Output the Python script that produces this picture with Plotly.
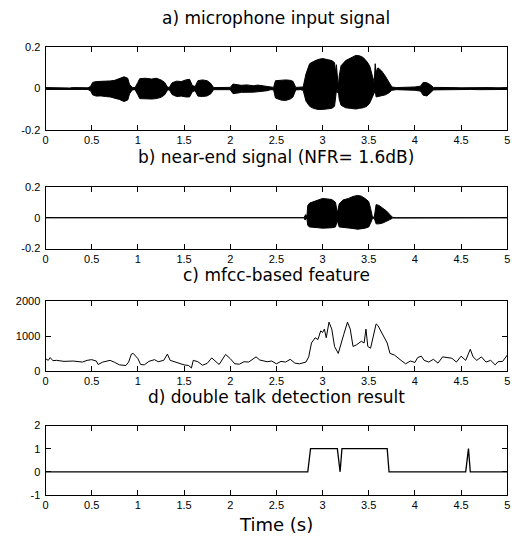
import plotly.graph_objects as go

# ---------- data ----------
# a) microphone input signal: envelope (time, upper, lower)
mic_t = [0.00, 0.06, 0.10, 0.16, 0.20, 0.26, 0.30, 0.36, 0.40, 0.46, 0.49, 0.51, 0.55, 0.60, 0.65, 0.70, 0.75,
         0.80, 0.85, 0.89, 0.91, 0.94, 0.97, 1.00, 1.02, 1.08, 1.15, 1.20, 1.25, 1.29, 1.32, 1.34, 1.37,
         1.42, 1.47, 1.52, 1.56, 1.59, 1.62, 1.65, 1.70, 1.75, 1.79, 1.82, 1.88, 1.94, 2.00, 2.03, 2.07,
         2.12, 2.18, 2.25, 2.30, 2.36, 2.40, 2.44, 2.47, 2.49, 2.55, 2.60, 2.65, 2.68, 2.71, 2.76, 2.79,
         2.82, 2.86, 2.90, 2.95, 3.00, 3.05, 3.10, 3.13, 3.14, 3.15, 3.16, 3.17, 3.18, 3.20, 3.25, 3.30,
         3.36, 3.40, 3.44, 3.48, 3.51, 3.54, 3.56, 3.57, 3.58, 3.60, 3.64, 3.68, 3.72, 3.75, 3.80, 3.90,
         4.00, 4.06, 4.09, 4.13, 4.17, 4.20, 4.30, 4.40, 4.50, 4.60, 4.70, 4.80, 4.90, 5.00]
mic_up = [0.005, 0.004, 0.006, 0.004, 0.005, 0.003, 0.005, 0.004, 0.005, 0.004, 0.012, 0.030, 0.034, 0.035, 0.033, 0.037, 0.040,
          0.050, 0.057, 0.050, 0.020, 0.006, 0.005, 0.030, 0.048, 0.050, 0.046, 0.050, 0.042, 0.030, 0.008, 0.005, 0.028,
          0.036, 0.034, 0.042, 0.045, 0.015, 0.010, 0.038, 0.042, 0.038, 0.025, 0.005, 0.006, 0.005, 0.006, 0.022, 0.020,
          0.016, 0.018, 0.014, 0.017, 0.012, 0.010, 0.005, 0.006, 0.038, 0.040, 0.042, 0.040, 0.035, 0.006, 0.005, 0.008,
          0.070, 0.120, 0.130, 0.140, 0.145, 0.140, 0.135, 0.125, 0.080, 0.115, 0.040, 0.008, 0.060, 0.110, 0.135, 0.145,
          0.160, 0.158, 0.150, 0.130, 0.110, 0.060, 0.030, 0.120, 0.080, 0.100, 0.085, 0.060, 0.030, 0.008, 0.005, 0.006,
          0.008, 0.012, 0.030, 0.028, 0.018, 0.006, 0.004, 0.005, 0.004, 0.005, 0.004, 0.005, 0.004, 0.005]
mic_low = [-0.004, -0.005, -0.004, -0.005, -0.004, -0.004, -0.005, -0.004, -0.004, -0.004, -0.012, -0.030, -0.036, -0.035, -0.038, -0.040, -0.045,
           -0.052, -0.062, -0.055, -0.025, -0.006, -0.005, -0.030, -0.048, -0.050, -0.050, -0.048, -0.042, -0.030, -0.008, -0.005, -0.028,
           -0.038, -0.036, -0.040, -0.040, -0.015, -0.010, -0.036, -0.038, -0.035, -0.025, -0.005, -0.005, -0.006, -0.005, -0.024, -0.022,
           -0.018, -0.016, -0.017, -0.015, -0.013, -0.010, -0.005, -0.006, -0.045, -0.055, -0.057, -0.050, -0.040, -0.006, -0.005, -0.008,
           -0.060, -0.085, -0.095, -0.100, -0.100, -0.098, -0.095, -0.085, -0.040, -0.010, -0.020, -0.008, -0.050, -0.080, -0.092, -0.095,
           -0.098, -0.095, -0.092, -0.085, -0.070, -0.040, -0.020, -0.010, -0.040, -0.040, -0.035, -0.030, -0.020, -0.008, -0.005, -0.005,
           -0.008, -0.012, -0.032, -0.035, -0.020, -0.006, -0.005, -0.004, -0.005, -0.004, -0.005, -0.004, -0.005, -0.004]

# b) near-end signal: envelope (time, upper, lower)
near_t = [0.00, 2.80, 2.81, 2.82, 2.83, 2.84, 2.86, 2.90, 2.95, 3.00, 3.05, 3.10, 3.14, 3.16, 3.18, 3.22, 3.28,
          3.33, 3.38, 3.42, 3.46, 3.50, 3.52, 3.54, 3.56, 3.58, 3.61, 3.65, 3.69, 3.73, 3.76, 3.80, 5.00]
near_up = [0.0, 0.0, 0.015, 0.020, 0.003, 0.080, 0.095, 0.105, 0.115, 0.125, 0.122, 0.118, 0.100, 0.030, 0.090, 0.115, 0.125,
           0.138, 0.145, 0.140, 0.125, 0.105, 0.060, 0.005, 0.003, 0.085, 0.080, 0.065, 0.045, 0.020, 0.002, 0.0, 0.0]
near_low = [0.0, 0.0, -0.015, -0.010, -0.003, -0.050, -0.060, -0.062, -0.065, -0.068, -0.068, -0.065, -0.060, -0.020, -0.060, -0.065, -0.068,
            -0.070, -0.075, -0.072, -0.068, -0.060, -0.035, -0.005, -0.003, -0.040, -0.040, -0.035, -0.025, -0.012, -0.002, 0.0, 0.0]

# c) mfcc-based feature
mfcc_t = [0.00, 0.03, 0.05, 0.08, 0.12, 0.20, 0.30, 0.40, 0.45, 0.50, 0.55, 0.57, 0.62, 0.70, 0.75, 0.80, 0.87,
          0.90, 0.93, 0.95, 1.00, 1.03, 1.07, 1.12, 1.18, 1.22, 1.28, 1.32, 1.35, 1.40, 1.45, 1.50, 1.55, 1.58,
          1.60, 1.65, 1.70, 1.75, 1.80, 1.85, 1.88, 1.95, 2.00, 2.05, 2.10, 2.15, 2.20, 2.28, 2.32, 2.40, 2.45,
          2.50, 2.55, 2.60, 2.65, 2.70, 2.75, 2.82, 2.85, 2.88, 2.92, 2.95, 2.98, 3.00, 3.02, 3.04, 3.07, 3.10,
          3.13, 3.17, 3.20, 3.23, 3.27, 3.30, 3.33, 3.37, 3.42, 3.45, 3.47, 3.49, 3.52, 3.55, 3.58, 3.60, 3.65,
          3.70, 3.73, 3.78, 3.85, 3.90, 3.95, 4.00, 4.03, 4.07, 4.10, 4.15, 4.20, 4.25, 4.30, 4.35, 4.40, 4.45,
          4.50, 4.55, 4.60, 4.63, 4.67, 4.72, 4.77, 4.82, 4.87, 4.90, 4.95, 5.00]
mfcc_v = [350, 300, 380, 290, 300, 270, 280, 250, 300, 320, 280, 180, 250, 300, 240, 170, 150,
          250, 480, 500, 350, 180, 170, 270, 320, 260, 300, 480, 300, 260, 200, 170, 150, 80,
          300, 260, 160, 210, 370, 250, 180, 470, 350, 200, 190, 260, 250, 400, 310, 260, 280,
          200, 270, 250, 330, 220, 200, 250, 400, 800, 950, 900, 1150, 1100, 1200, 950, 1400, 1200,
          700, 500, 800, 1050, 1400, 1200, 700, 750, 850, 800, 1200, 700, 650, 1000, 1350, 1300, 1050,
          800, 500, 450, 300, 200, 280, 240, 380, 420, 300, 250, 330, 220, 400, 380, 360, 250,
          420, 300, 620, 400, 300, 400, 250, 300, 170, 260, 270, 450]

# d) double talk detection result
dt_t = [0.00, 2.84, 2.87, 3.16, 3.19, 3.21, 3.70, 3.72, 4.55, 4.58, 4.60, 5.00]
dt_v = [0, 0, 1, 1, 0, 1, 1, 0, 0, 1, 0, 0]

titles = ["a) microphone input signal", "b) near-end signal (NFR= 1.6dB)",
          "c) mfcc-based feature", "d) double talk detection result"]
x_label = "Time (s)"
y_ticks = [[-0.2, 0, 0.2], [-0.2, 0, 0.2], [0, 1000, 2000], [-1, 0, 1, 2]]
y_ticktext = [["-0.2", "0", "0.2"], ["-0.2", "0", "0.2"], ["0", "1000", "2000"], ["-1", "0", "1", "2"]]
y_ranges = [[-0.2, 0.2], [-0.2, 0.2], [0, 2000], [-1, 2]]
x_ticks = [0, 0.5, 1, 1.5, 2, 2.5, 3, 3.5, 4, 4.5, 5]
x_ticktext = ["0", "0.5", "1", "1.5", "2", "2.5", "3", "3.5", "4", "4.5", "5"]

# ---------- layout geometry (pixels) ----------
W, H = 532, 543
x_left, x_right = 43, 510
boxes = [(42, 127), (185, 248), (302, 373), (429, 500)]
title_y = [12, 154, 275, 400]
xlabel_y = 530

TICK_FONT = "Liberation Sans, Arial, sans-serif"
TITLE_FONT = "DejaVu Sans, Verdana, sans-serif"

fig = go.Figure()

def env_trace(t, up, low, ax):
    xs = list(t) + list(reversed(t))
    ys = list(up) + list(reversed(low))
    return go.Scatter(x=xs, y=ys, mode="lines", fill="toself", fillcolor="black",
                      line=dict(color="black", width=1), xaxis="x" + ax, yaxis="y" + ax,
                      hoverinfo="skip", showlegend=False)

fig.add_trace(env_trace(mic_t, mic_up, mic_low, ""))
fig.add_trace(env_trace(near_t, near_up, near_low, "2"))
fig.add_trace(go.Scatter(x=mfcc_t, y=mfcc_v, mode="lines", line=dict(color="black", width=1),
                         xaxis="x3", yaxis="y3", showlegend=False))
fig.add_trace(go.Scatter(x=dt_t, y=dt_v, mode="lines", line=dict(color="black", width=1.3),
                         xaxis="x4", yaxis="y4", showlegend=False))

layout = dict(width=W, height=H, margin=dict(l=0, r=0, t=0, b=0),
              paper_bgcolor="white", plot_bgcolor="white",
              font=dict(family=TICK_FONT, color="black", size=11), showlegend=False)

annotations = []
for i, (top, bot) in enumerate(boxes):
    sfx = "" if i == 0 else str(i + 1)
    dom_y = [1 - bot / H, 1 - top / H]
    axcommon = dict(showline=True, linecolor="black", linewidth=1, mirror="ticks",
                    ticks="inside", ticklen=5, tickcolor="black", tickwidth=1,
                    showgrid=False, zeroline=False,
                    tickfont=dict(size=11, family=TICK_FONT, color="black"))
    layout["xaxis" + sfx] = dict(domain=[x_left / W, x_right / W], range=[0, 5],
                                 anchor="y" + sfx, tickvals=x_ticks, ticktext=x_ticktext,
                                 **axcommon)
    layout["yaxis" + sfx] = dict(domain=dom_y, range=y_ranges[i], anchor="x" + sfx,
                                 tickvals=y_ticks[i], ticktext=y_ticktext[i],
                                 ticklabelstandoff=2, **axcommon)
    annotations.append(dict(text=titles[i], x=(x_left + x_right) / 2 / W, y=1 - title_y[i] / H,
                            xref="paper", yref="paper", showarrow=False, xanchor="center",
                            yanchor="middle", font=dict(size=17, family=TITLE_FONT, color="black")))

annotations.append(dict(text=x_label, x=(x_left + x_right) / 2 / W, y=1 - xlabel_y / H,
                        xref="paper", yref="paper", showarrow=False, xanchor="center",
                        yanchor="middle", font=dict(size=18, family=TITLE_FONT, color="black")))
layout["annotations"] = annotations
fig.update_layout(**layout)

# remove the default page margin so the figure sits at the window origin
fig.write_html("out.html", config={"displayModeBar": False},
               post_script="document.body.style.margin='0px';document.body.style.padding='0px';")
